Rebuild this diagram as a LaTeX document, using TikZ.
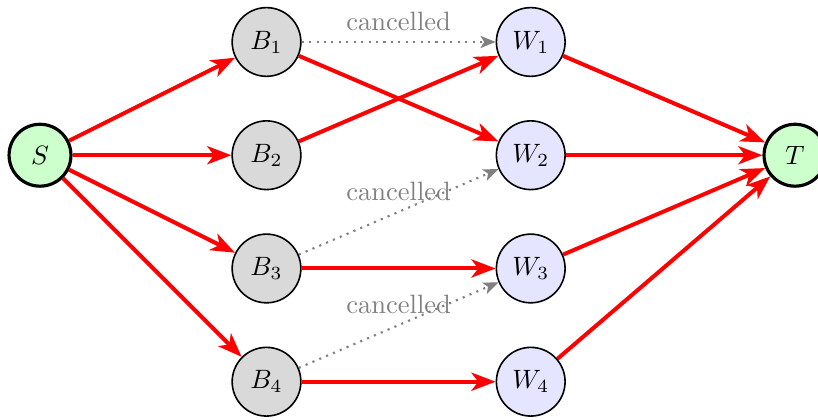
\documentclass[tikz,border=0pt]{standalone}
\usepackage{amsmath}
\usepackage{xcolor}
\usetikzlibrary{
	positioning,   %定位
	arrows.meta    %箭头
}
\tikzstyle{endpoint}=[circle,
draw=black,
line width=1.2pt,
fill=green!20,
minimum size=0.82cm,
inner sep=0pt]
\tikzstyle{buyer}=[circle,
draw=black,
semithick,
fill=gray!30,
minimum size=0.91cm,
inner sep=0pt]
\tikzstyle{worker}=[buyer,
fill=blue!10]
\tikzset{
	every picture/.style={
		>={Stealth[length=3.2mm,width=2.4mm,inset=0.9mm]},
		node distance=5mm and 5mm
	},
	flow/.style={->,red,line width=1.5pt},
	cancel/.style={->,gray,dotted,thick,
		>={Stealth[length=2mm,width=1.6mm,inset=0.5mm]}},
	cancellabel/.style={gray,inner sep=3.8pt}
}

\begin{document}
\begin{tikzpicture}
\useasboundingbox (-0.53,-3.503) rectangle (10.305,2.056);
%源点和汇点
\node[endpoint] (S) at (0,0) {$S$};
\node[endpoint] (T) at (10,0) {$T$};
%中间两列节点
\foreach \i/\y in {1/1.5,2/0,3/-1.5,4/-3}{
	\node[buyer] (B\i) at (3,\y) {$B_\i$};
	\node[worker] (W\i) at (6.5,\y) {$W_\i$};
}
%红色的流
\foreach \i in {1,2,3,4}{
	\draw[flow] (S) -- (B\i);
}
\draw[flow] (B1) -- (W2);
\draw[flow] (B2) -- (W1);
\draw[flow] (B3) -- (W3);
\draw[flow] (B4) -- (W4);
\foreach \i in {1,2,3,4}{
	\draw[flow] (W\i) -- (T);
}
%取消的边
\draw[cancel] (B1) -- node[cancellabel,above] {cancelled} (W1);
\draw[cancel] (B3) -- node[cancellabel,above] {cancelled} (W2);
\draw[cancel] (B4) -- node[cancellabel,above] {cancelled} (W3);
\end{tikzpicture}
\end{document}
